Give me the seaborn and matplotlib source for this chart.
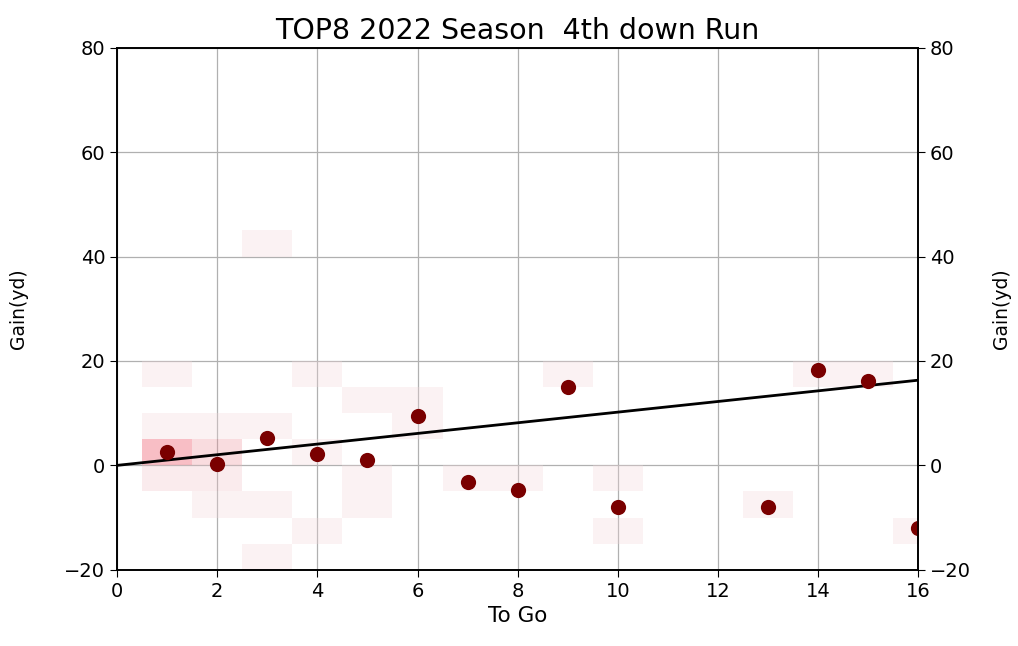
import matplotlib
matplotlib.use("Agg")
import matplotlib.pyplot as plt
import numpy as np
import pandas as pd
import seaborn as sns

#%% datos: promedio de ganancia por yardas por avanzar (4th down, carrera)
to_go = [1, 2, 3, 4, 5, 6, 7, 8, 9, 10, 13, 14, 15, 16]
gain_mean = [2.5, 0.2, 5.2, 2.1, 1.1, 9.4, -3.1, -4.8, 15.0, -8.0, -8.0, 18.2, 16.1, -12.0]

# jugadas individuales (fondo tipo histograma 2D)
play_togo = [1, 1, 1, 1, 1, 1, 1, 1, 1, 1, 1, 1,
             2, 2, 2, 2, 2, 2, 2, 2,
             3, 3, 3, 3, 4, 4, 4, 5, 5, 5, 6, 6,
             7, 8, 9, 10, 10, 13, 14, 15, 16]
play_gain = [2, 3, 1, 0, 4, -2, 1, 3, -4, 15, 2, 5,
             1, 0, -2, 3, 5, -1, -8, 4,
             40, 8, -18, -9, 15, 2, -11, -3, 12, -6, 14, 5,
             -3, -5, 15, -3, -13, -8, 18, 16, -12]

# recta de tendencia
fit_slope = 1.02
fit_intercept = 0.0

#%% gráfico
sns.set_style("ticks")
plt.rcParams["font.family"] = ["DejaVu Sans"]
plt.rcParams["text.color"] = "black"
plt.rcParams["axes.labelcolor"] = "black"

fig = plt.figure(figsize=(10.18, 6.46), dpi=100)
ax = fig.add_axes([0.115, 0.118, 0.787, 0.808])

plays = pd.DataFrame({"ToGo": play_togo, "Gain": play_gain})
pink = sns.light_palette("#e8102a", as_cmap=True)
sns.histplot(data=plays, x="ToGo", y="Gain",
             bins=(np.arange(0.5, 17, 1), np.arange(-20, 81, 5)),
             cmap=pink, vmin=0, vmax=9, alpha=0.3, ax=ax, zorder=1)

means = pd.DataFrame({"ToGo": to_go, "Gain": gain_mean})
sns.scatterplot(data=means, x="ToGo", y="Gain", color="#7a0000", s=120,
                linewidth=0, ax=ax, zorder=4)

xs = np.array([0, 16])
ax.plot(xs, fit_intercept + fit_slope * xs, color="black", lw=2, zorder=3)

ax.set_xlim(0, 16)
ax.set_ylim(-20, 80)
ax.set_xticks(range(0, 17, 2))
ax.set_yticks(range(-20, 81, 20))
ax.grid(True, color="#b0b0b0", lw=0.9)
ax.set_axisbelow(True)
ax.tick_params(labelsize=14, length=5, colors="black")
ax.set_xlabel("To Go", fontsize=15.5, labelpad=4)
ax.set_ylabel("Gain(yd)", fontsize=13.5, labelpad=26)
ax.set_title("TOP8 2022 Season  4th down Run", fontsize=20.5, pad=6)

ax2 = ax.twinx()
ax2.set_ylim(-20, 80)
ax2.set_yticks(range(-20, 81, 20))
ax2.tick_params(labelsize=14, length=5, colors="black")
ax2.set_ylabel("Gain(yd)", fontsize=13.5, labelpad=15)
for a in (ax, ax2):
    for s in a.spines.values():
        s.set_color("black")
        s.set_linewidth(1.2)

fig.savefig("out.png", dpi=100)
